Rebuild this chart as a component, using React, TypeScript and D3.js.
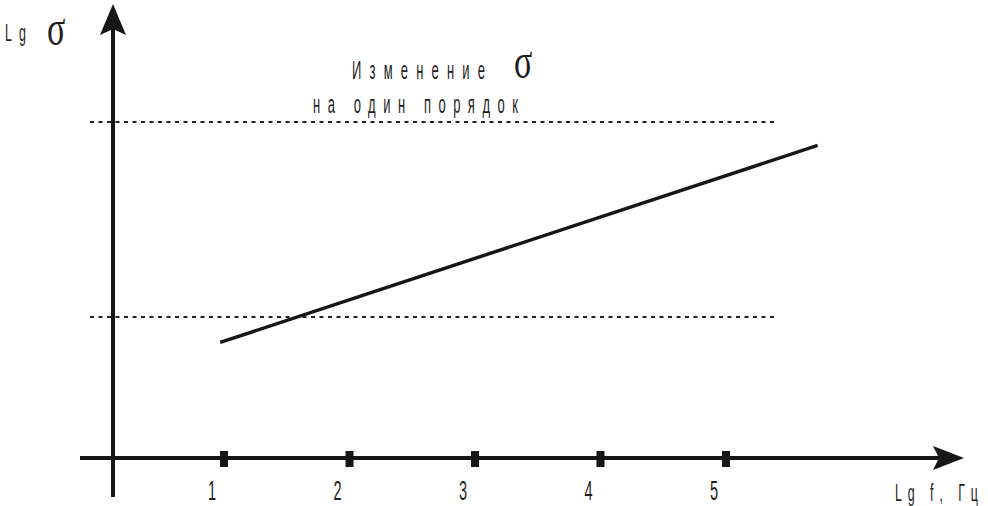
import React from "react";
import * as d3 from "d3";

const xTicks = [1, 2, 3, 4, 5];
const xTickLabels = ["1", "2", "3", "4", "5"];
const lineX = [0.97, 5.73];
const lineY = [-0.13, 0.88];
const guideLevels = [0, 1];
const titleLine1 = "Изменение";
const titleLine2 = "на один порядок";
const yAxisLabelParts = ["L", "g"];
const xAxisLabel = "Lg f, Гц";

const W = 988;
const H = 506;
const SANS = "'Liberation Sans', Arial, sans-serif";
const SERIF = "'Liberation Serif', 'DejaVu Serif', serif";
const SX = 0.52;

function CondText(props: { x: number; y: number; width?: number; size: number; anchor?: string; children: string }) {
  const { x, y, width, size, anchor, children } = props;
  return (
    <text
      transform={`translate(${x},${y}) scale(${SX},1)`}
      fontFamily={SANS}
      fontSize={size}
      fill="#1e1e1e"
      textAnchor={anchor || "start"}
      {...(width ? { textLength: width / SX, lengthAdjust: "spacing" } : {})}
    >
      {children}
    </text>
  );
}

function Sigma(props: { x: number; y: number }) {
  return (
    <text transform={`translate(${props.x},${props.y}) scale(0.68,1)`} fontFamily={SERIF} fontSize={50} fill="#1e1e1e">
      σ
    </text>
  );
}

export default function App() {
  const x = d3.scaleLinear().domain([1, 5]).range([224, 726]);
  const y = d3.scaleLinear().domain([0, 1]).range([317, 122]);
  const axisX = 113;
  const axisY = 458;

  const linePts: [number, number][] = lineX.map((v, i) => [x(v), y(lineY[i])]);
  const lineGen = d3.line();

  return (
    <svg width={W} height={H} style={{ position: "absolute", left: 0, top: 0, background: "#fff" }}>
      {guideLevels.map((g, i) => (
        <line key={i} x1={90} x2={776} y1={y(g)} y2={y(g)} stroke="#222" strokeWidth={1.8} strokeDasharray="4,4.5" />
      ))}
      <line x1={axisX} x2={axisX} y1={497} y2={26} stroke="#161616" strokeWidth={4} />
      <path d={`M${axisX},4 L${axisX + 13},35 L${axisX},29 L${axisX - 13},35 Z`} fill="#161616" />
      <line x1={80} x2={940} y1={axisY} y2={axisY} stroke="#161616" strokeWidth={4} />
      <path d={`M964,${axisY} L933,${axisY - 12} L939,${axisY} L933,${axisY + 12} Z`} fill="#161616" />
      {xTicks.map((t) => (
        <rect key={t} x={x(t) - 4} y={451} width={8} height={16} fill="#161616" />
      ))}
      {xTicks.map((t, i) => (
        <CondText key={t} x={x(t) - 12} y={500} size={28} anchor="middle">
          {xTickLabels[i]}
        </CondText>
      ))}
      <path d={lineGen(linePts) || ""} stroke="#161616" strokeWidth={3.5} fill="none" />
      {yAxisLabelParts.map((p, i) => (
        <CondText key={p} x={5 + i * 14} y={41} size={24}>{p}</CondText>
      ))}
      <Sigma x={47} y={45} />
      <CondText x={352} y={79} size={25} width={133}>{titleLine1}</CondText>
      <Sigma x={514} y={78} />
      <CondText x={313} y={113} size={25} width={205}>{titleLine2}</CondText>
      <CondText x={895} y={501} size={24} width={83}>{xAxisLabel}</CondText>
    </svg>
  );
}
